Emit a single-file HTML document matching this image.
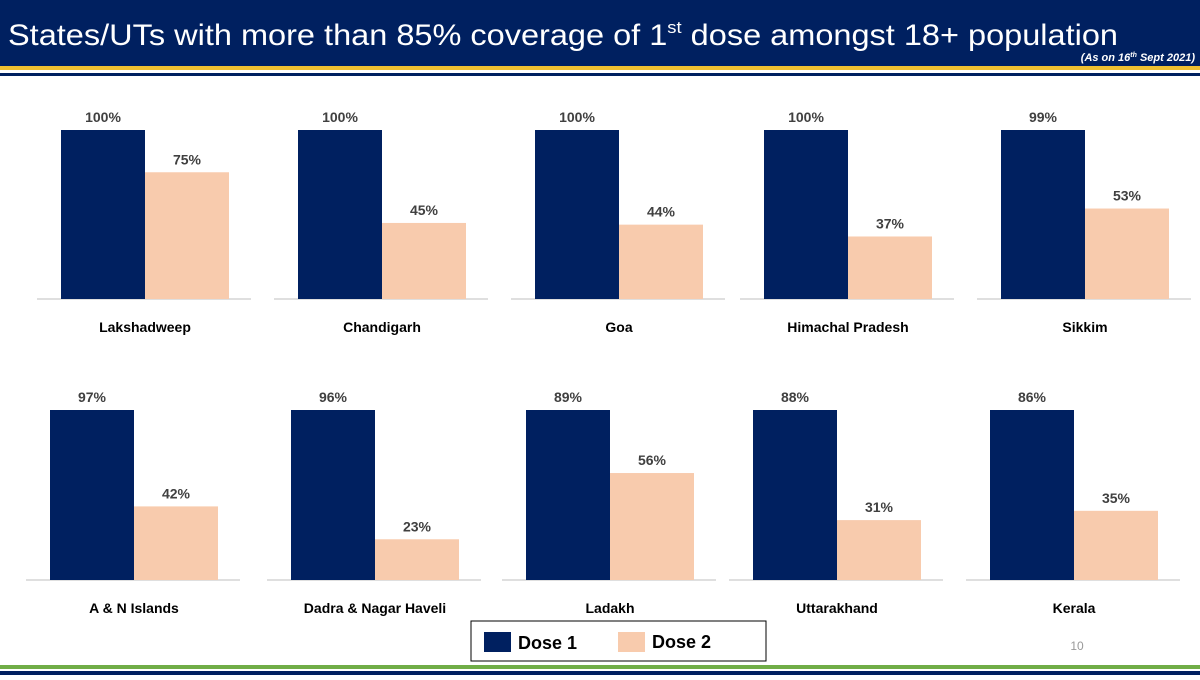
<!DOCTYPE html>
<html><head><meta charset="utf-8"><style>
body{margin:0;width:1200px;height:675px;overflow:hidden;background:#fff;font-family:"Liberation Sans",sans-serif}
</style></head><body>
<svg id="c" width="1200" height="675" xmlns="http://www.w3.org/2000/svg">
<rect x="0" y="0" width="1200" height="66" fill="#002060"/>
<rect x="0" y="66" width="1200" height="4" fill="#f0c030"/>
<rect x="0" y="73" width="1200" height="3" fill="#002060"/>
<text x="8" y="45" fill="#fff" font-size="30" textLength="1110" lengthAdjust="spacingAndGlyphs">States/UTs with more than 85% coverage of 1<tspan font-size="17" dy="-12">st</tspan><tspan dy="12"> dose amongst 18+ population</tspan></text>
<text x="1195" y="61" fill="#fff" font-size="11" font-style="italic" font-weight="bold" text-anchor="end">(As on 16<tspan font-size="7" dy="-4">th</tspan><tspan dy="4"> Sept 2021)</tspan></text>
<g id="panels"></g>
<rect x="471" y="621" width="295" height="40" fill="#fff" stroke="#000" stroke-width="1"/>
<rect x="484" y="632" width="27" height="20" fill="#002060"/>
<text x="518" y="649" font-size="18" font-weight="bold" fill="#000">Dose 1</text>
<rect x="618" y="632" width="27" height="20" fill="#f8cbad"/>
<text x="652" y="648" font-size="18" font-weight="bold" fill="#000">Dose 2</text>
<text x="1077" y="650" font-size="12" fill="#999" text-anchor="middle">10</text>
<rect x="0" y="665" width="1200" height="4" fill="#70ad47"/>
<rect x="0" y="671" width="1200" height="4" fill="#002060"/>
</svg>
<script>
const regions=["Lakshadweep","Chandigarh","Goa","Himachal Pradesh","Sikkim","A & N Islands","Dadra & Nagar Haveli","Ladakh","Uttarakhand","Kerala"];
const dose1=[100,100,100,100,99,97,96,89,88,86];
const dose2=[75,45,44,37,53,42,23,56,31,35];
const NS="http://www.w3.org/2000/svg";
const g=document.getElementById('panels');
const barX=[61,298,535,764,1001,50,291,526,753,990];
function mk(t,a){const e=document.createElementNS(NS,t);for(const k in a)e.setAttribute(k,a[k]);g.appendChild(e);return e;}
regions.forEach((name,i)=>{
  const row=i<5?0:1;
  const base=row?580:299;
  const x0=barX[i], bw=84;
  const maxV=Math.max(dose1[i],dose2[i]);
  const y=v=>base-v/maxV*(row?170:169);
  const ax=mk('line',{x1:x0-24,x2:x0+bw*2+22,y1:base,y2:base,stroke:'#bfbfbf','stroke-width':1});
  
  
  const b1=mk('rect',{x:x0,y:y(dose1[i]),width:bw,height:base-y(dose1[i]),fill:'#002060'});
  
  
  const b2=mk('rect',{x:x0+bw,y:y(dose2[i]),width:bw,height:base-y(dose2[i]),fill:'#f8cbad'});
  
  
  const l1=mk('text',{x:x0+bw/2,y:y(dose1[i])-8,'text-anchor':'middle','font-size':14,'font-weight':'bold',fill:'#404040'});
  l1.textContent=dose1[i]+'%';
  
  
  const l2=mk('text',{x:x0+bw*1.5,y:y(dose2[i])-8,'text-anchor':'middle','font-size':14,'font-weight':'bold',fill:'#404040'});
  l2.textContent=dose2[i]+'%';
  
  
  const c=mk('text',{x:x0+bw,y:base+33,'text-anchor':'middle','font-size':14,'font-weight':'bold',fill:'#000'});
  c.textContent=name;
  
  
});
</script>
</body></html>
